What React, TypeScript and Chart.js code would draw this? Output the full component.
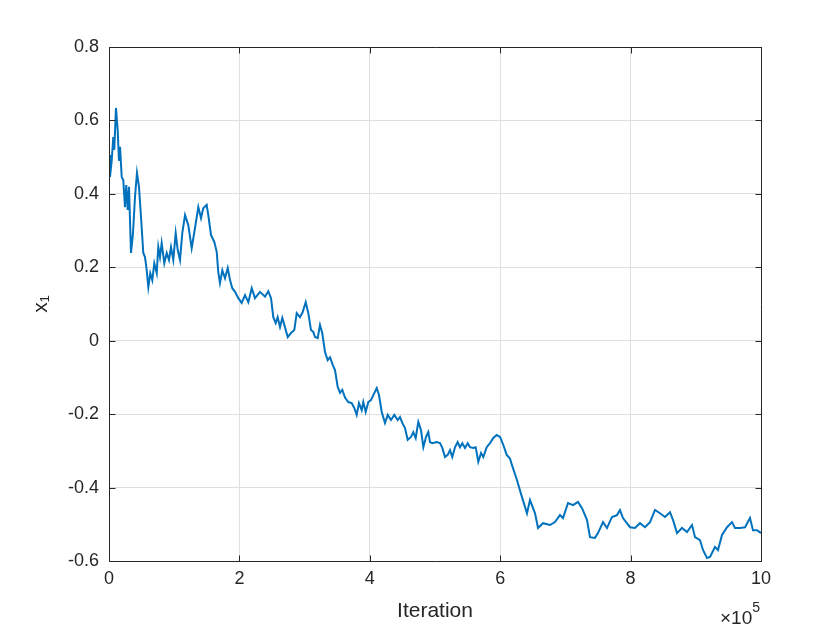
import React, { useEffect, useRef } from "react";
import { Chart, registerables } from "chart.js";

Chart.register(...registerables);

const iterations = [
  0, 1500, 4100, 6600, 8100, 10700, 13300, 15300, 16900, 19500, 21900, 24500, 26500, 28700, 30700, 33700, 36800,
  39900, 42900, 46000, 49100, 52600, 55200, 57800, 60300, 63300, 66400, 69500, 73200, 75600, 78200, 80800, 84800,
  88500, 92000, 95100, 98600, 102300, 105400, 108900, 112400, 116600, 121600, 126800, 131900, 137000, 141100,
  144600, 149800, 152300, 156400, 161500, 165200, 167600, 170200, 173800, 177900, 182100, 185600, 189100, 193300,
  198300, 203500, 208600, 213700, 218900, 223900, 231600, 239300, 244300, 248500, 252000, 255700, 258700, 262300,
  265800, 269900, 274100, 279100, 284200, 287900, 292900, 297100, 301700, 305700, 309800, 313300, 316000, 320100,
  323600, 327100, 331300, 335400, 339000, 343100, 346600, 350800, 354300, 357800, 362000, 367000, 372200, 376200,
  379900, 383400, 387600, 390000, 393700, 397700, 401800, 405400, 410600, 414100, 418300, 423300, 427500, 432500,
  437600, 442800, 446300, 449800, 454000, 458100, 463200, 466700, 470400, 474400, 478500, 482100, 486200, 489700,
  492300, 495900, 502600, 507700, 511200, 515300, 519500, 523000, 526500, 530700, 534800, 538300, 541900, 546000,
  550200, 553700, 558700, 562400, 566400, 570600, 574100, 579300, 584400, 589400, 594600, 599700, 604800, 610000,
  615000, 618100, 625800, 633400, 641100, 645700, 653400, 658000, 665600, 676400, 684000, 691700, 696300, 704000,
  711700, 719300, 725500, 733100, 737700, 745400, 750000, 757700, 763800, 771500, 779100, 783700, 788300, 799100,
  806700, 814400, 822100, 829800, 837400, 845100, 852800, 860400, 865000, 871200, 878800, 886500, 894200, 898800,
  906400, 911000, 917200, 921800, 929400, 934000, 940200, 947900, 955500, 960100, 967800, 975500, 983100, 987700,
  993900, 1000000,
];

const x1Values = [
  0.506, 0.446, 0.49, 0.555, 0.52, 0.634, 0.574, 0.49, 0.528, 0.446, 0.438, 0.364, 0.424, 0.356, 0.419, 0.239, 0.293,
  0.392, 0.457, 0.419, 0.337, 0.239, 0.228, 0.193, 0.146, 0.184, 0.165, 0.211, 0.184, 0.255, 0.228, 0.266, 0.211,
  0.239, 0.22, 0.255, 0.22, 0.293, 0.247, 0.22, 0.293, 0.342, 0.315, 0.252, 0.307, 0.364, 0.334,
  0.361, 0.37, 0.342, 0.288, 0.269, 0.242, 0.187, 0.157, 0.192, 0.17, 0.198, 0.165, 0.143, 0.133,
  0.116, 0.103, 0.124, 0.105, 0.143, 0.116, 0.133, 0.12, 0.135, 0.116, 0.064, 0.048, 0.064, 0.037,
  0.062, 0.037, 0.01, 0.021, 0.029, 0.075, 0.064, 0.078, 0.105, 0.075, 0.029, 0.024, 0.01, 0.007,
  0.043, 0.021, -0.031, -0.053, -0.045, -0.066, -0.08, -0.126, -0.142, -0.134, -0.155, -0.167, -0.17, -0.183,
  -0.202, -0.17, -0.189, -0.167, -0.194, -0.167, -0.162, -0.148, -0.129, -0.148, -0.194, -0.224, -0.202, -0.216,
  -0.202, -0.216, -0.208, -0.224, -0.238, -0.27, -0.262, -0.249, -0.265, -0.221, -0.243, -0.29, -0.262, -0.249,
  -0.276, -0.279, -0.276, -0.279, -0.292, -0.317, -0.311, -0.298, -0.317, -0.29, -0.276, -0.29, -0.279, -0.292,
  -0.279, -0.29, -0.292, -0.29, -0.33, -0.306, -0.317, -0.29, -0.279, -0.265, -0.257, -0.262, -0.284, -0.311,
  -0.321, -0.339, -0.38, -0.426, -0.47, -0.434, -0.47, -0.51, -0.497, -0.502, -0.494, -0.475, -0.483, -0.442,
  -0.448, -0.439, -0.456, -0.488, -0.535, -0.537, -0.524, -0.494, -0.51, -0.48, -0.475, -0.461, -0.483, -0.508,
  -0.51, -0.497, -0.508, -0.494, -0.461, -0.47, -0.48, -0.467, -0.488, -0.524, -0.51, -0.521, -0.502, -0.535,
  -0.543, -0.57, -0.592, -0.589, -0.562, -0.57, -0.529, -0.508, -0.494, -0.51, -0.51, -0.508, -0.483, -0.516,
  -0.516, -0.524,
];

const xTickValues = [0, 200000, 400000, 600000, 800000, 1000000];
const yTickValues = [-0.6, -0.4, -0.2, 0, 0.2, 0.4, 0.6, 0.8];
const xAxisTitle = "Iteration";
const yAxisTitle = "x₁";
const exponentBase = "×10";
const exponentPower = "5";

const FONT = "'Liberation Sans', Arial, Helvetica, sans-serif";
const TEXT = "#262626";

const boxPlugin = {
  id: "matlabBox",
  afterDraw(chart: any) {
    const { ctx, chartArea: a, scales } = chart;
    ctx.save();
    ctx.strokeStyle = TEXT;
    ctx.lineWidth = 1;
    const L = Math.round(a.left) + 0.5;
    const R = Math.round(a.right) + 0.5;
    const T = Math.round(a.top) + 0.5;
    const B = Math.round(a.bottom) + 0.5;
    ctx.beginPath();
    ctx.rect(L, T, R - L, B - T);
    ctx.stroke();
    const tl = 6;
    ctx.beginPath();
    for (const v of xTickValues) {
      const px = Math.round(scales.x.getPixelForValue(v)) + 0.5;
      ctx.moveTo(px, B);
      ctx.lineTo(px, B - tl);
      ctx.moveTo(px, T);
      ctx.lineTo(px, T + tl);
    }
    for (const v of yTickValues) {
      const py = Math.round(scales.y.getPixelForValue(v)) + 0.5;
      ctx.moveTo(L, py);
      ctx.lineTo(L + tl, py);
      ctx.moveTo(R, py);
      ctx.lineTo(R - tl, py);
    }
    ctx.stroke();
    // exponent label
    ctx.fillStyle = TEXT;
    ctx.textBaseline = "alphabetic";
    ctx.textAlign = "right";
    ctx.font = `14px ${FONT}`;
    const supW = ctx.measureText(exponentPower).width;
    ctx.fillText(exponentPower, a.right - 1, 612);
    ctx.font = `19px ${FONT}`;
    ctx.fillText(exponentBase, a.right - 1 - supW, 624);
    ctx.restore();
  },
};

export default function App() {
  const ref = useRef<HTMLCanvasElement>(null);
  useEffect(() => {
    document.body.style.margin = "0";
    const data = iterations.map((x, i) => ({ x, y: x1Values[i] }));
    const chart = new Chart(ref.current!, {
      type: "line",
      data: {
        datasets: [
          {
            data,
            borderColor: "#0072BD",
            borderWidth: 2,
            pointRadius: 0,
            tension: 0,
            fill: false,
          },
        ],
      },
      options: {
        animation: false,
        responsive: false,
        events: [],
        layout: { padding: { left: 0, right: 79, top: 47, bottom: 0 } },
        plugins: { legend: { display: false }, tooltip: { enabled: false } },
        scales: {
          x: {
            type: "linear",
            min: 0,
            max: 1000000,
            afterFit: (s: any) => {
              s.height = 69;
            },
            afterBuildTicks: (s: any) => {
              s.ticks = xTickValues.map((v) => ({ value: v }));
            },
            border: { display: false },
            grid: { color: "#dfdfdf", lineWidth: 1, drawTicks: false },
            ticks: {
              color: TEXT,
              font: { family: FONT, size: 18 },
              padding: 7,
              maxRotation: 0,
              callback: (v: any) => String(Math.round(Number(v) / 100000)),
            },
            title: {
              display: true,
              text: xAxisTitle,
              color: TEXT,
              font: { family: FONT, size: 21 },
              padding: { top: 0, bottom: 6 },
            },
          },
          y: {
            type: "linear",
            min: -0.6,
            max: 0.8,
            afterFit: (s: any) => {
              s.width = 109;
            },
            afterBuildTicks: (s: any) => {
              s.ticks = yTickValues.map((v) => ({ value: v }));
            },
            border: { display: false },
            grid: { color: "#dfdfdf", lineWidth: 1, drawTicks: false },
            ticks: {
              color: TEXT,
              font: { family: FONT, size: 18 },
              padding: 10,
              callback: (v: any) => {
                const n = Math.round(Number(v) * 10) / 10;
                return n === 0 ? "0" : n.toFixed(1);
              },
            },
            title: {
              display: true,
              text: yAxisTitle,
              color: TEXT,
              font: { family: FONT, size: 21 },
              padding: { top: 29, bottom: 0 },
            },
          },
        },
      },
      plugins: [boxPlugin],
    });
    return () => chart.destroy();
  }, []);
  return (
    <div style={{ position: "fixed", left: 0, top: 0, width: 840, height: 630, background: "#fff" }}>
      <canvas ref={ref} width={840} height={630} style={{ display: "block", width: 840, height: 630 }} />
    </div>
  );
}
